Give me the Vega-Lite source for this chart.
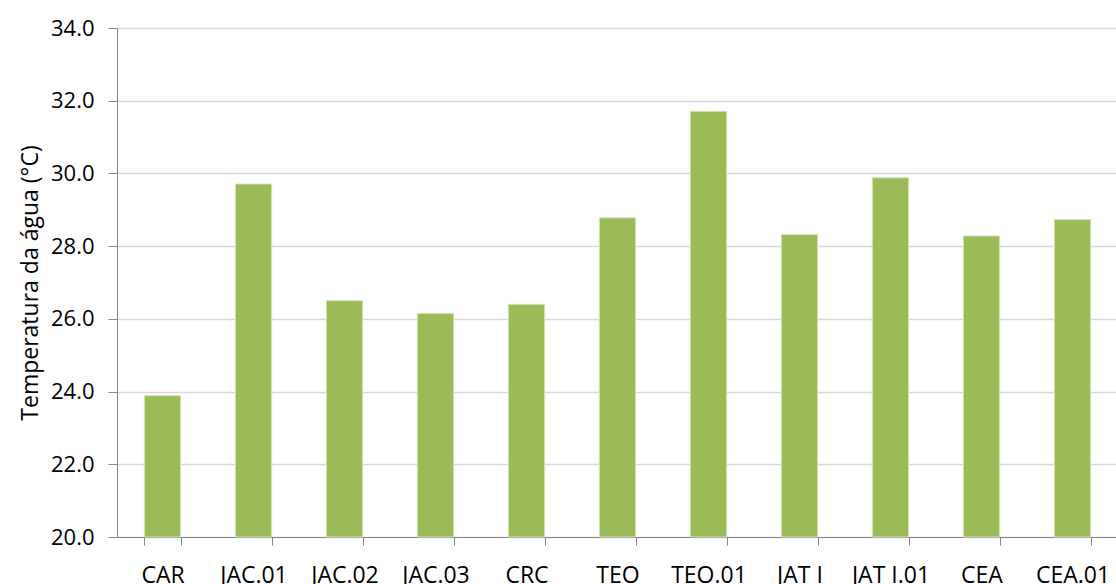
{
  "$schema": "https://vega.github.io/schema/vega-lite/v6.json",
  "autosize": "none",
  "width": 1001,
  "height": 509,
  "padding": {"left": 117, "top": 28, "right": 0, "bottom": 47},
  "background": "white",
  "data": {"values": [
    {"site": "CAR", "temp": 23.89},
    {"site": "JAC.01", "temp": 29.71},
    {"site": "JAC.02", "temp": 26.5},
    {"site": "JAC.03", "temp": 26.15},
    {"site": "CRC", "temp": 26.4},
    {"site": "TEO", "temp": 28.78},
    {"site": "TEO.01", "temp": 31.71},
    {"site": "JAT I", "temp": 28.32},
    {"site": "JAT I.01", "temp": 29.88},
    {"site": "CEA", "temp": 28.28},
    {"site": "CEA.01", "temp": 28.73}
  ]},
  "mark": {"type": "bar", "color": "#9BBB59", "stroke": "#D7E4BD", "strokeWidth": 1},
  "encoding": {
    "x": {
      "field": "site", "type": "nominal", "sort": null,
      "scale": {"paddingInner": 0.6, "paddingOuter": 0.3},
      "axis": {
        "title": null, "labelAngle": 0, "labelFont": "Open Sans", "labelFontSize": 23,
        "labelColor": "#000000", "labelPadding": 19, "labelOverlap": false,
        "domainColor": "#868686", "tickColor": "#868686", "tickSize": 8,
        "tickBand": "extent", "grid": false
      }
    },
    "y": {
      "field": "temp", "type": "quantitative",
      "scale": {"domain": [20, 34], "zero": false, "nice": false},
      "axis": {
        "title": "Temperatura da água (°C)", "titleFont": "Open Sans", "titleFontSize": 23,
        "titleFontWeight": "normal", "titleColor": "#000000", "titlePadding": 8,
        "labelFont": "Open Sans", "labelFontSize": 22, "labelColor": "#000000",
        "labelPadding": 14, "format": ".1f", "values": [20, 22, 24, 26, 28, 30, 32, 34],
        "domainColor": "#868686", "tickColor": "#868686", "tickSize": 9,
        "gridColor": "#D9D9D9", "gridWidth": 1.5
      }
    },
    "y2": {"datum": 20}
  },
  "config": {"view": {"stroke": null}}
}
